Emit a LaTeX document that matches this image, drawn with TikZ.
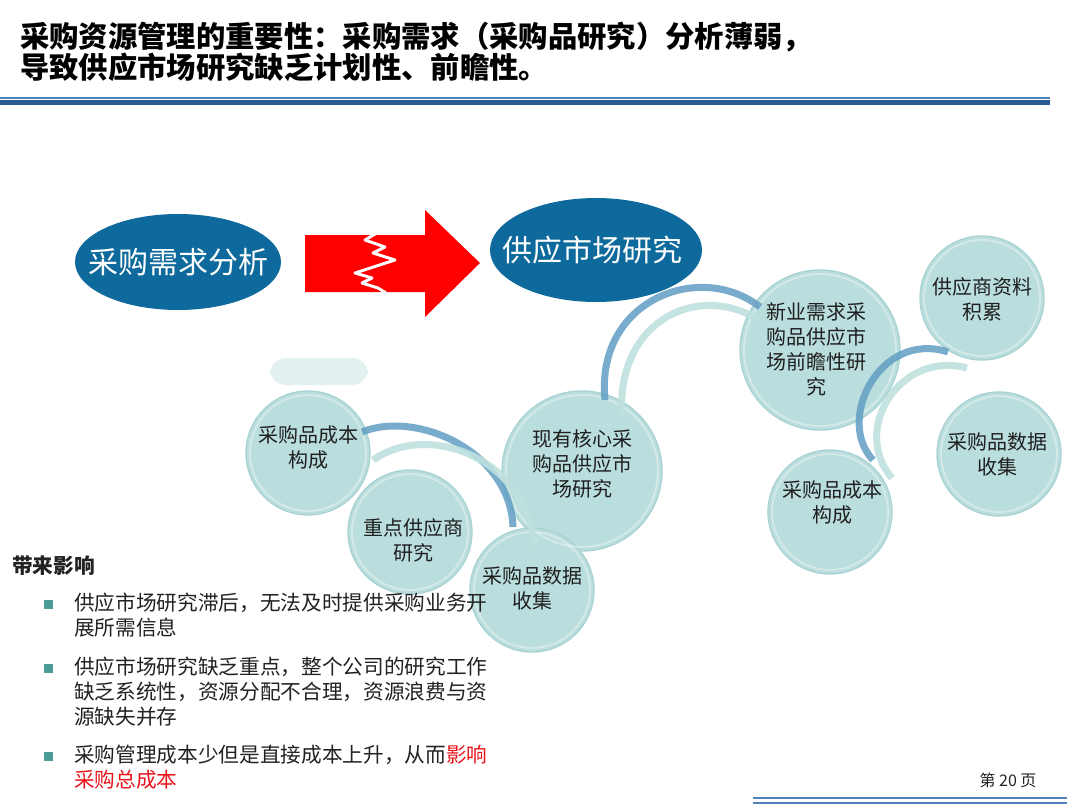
\documentclass[tikz,border=0pt]{standalone}
\usepackage{fontspec}
\setmainfont{Noto Sans CJK SC}
\usetikzlibrary{shapes.geometric}
\definecolor{ellblue}{RGB}{14,106,156}
\definecolor{bubfill}{RGB}{186,222,221}
\definecolor{bubedge}{RGB}{168,211,210}
\definecolor{arcdark}{RGB}{98,158,196}
\definecolor{arclight}{RGB}{190,224,222}
\definecolor{bulletc}{RGB}{74,156,152}
\definecolor{textgray}{RGB}{34,34,34}
\definecolor{ruleA}{RGB}{79,129,189}
\definecolor{ruleB}{RGB}{42,90,147}
\definecolor{redtxt}{RGB}{232,20,27}
\definecolor{fadec}{RGB}{228,241,241}
\begin{document}
\begin{tikzpicture}[x=0.75pt,y=-0.75pt,
  ell/.style={ellipse, fill=ellblue, inner sep=0pt},
  etxt/.style={text=white, inner sep=0pt, font=\fontsize{22.5}{27}\selectfont},
  bub/.style={circle, inner sep=0pt, fill=bubfill, draw=bubedge, line width=1pt},
  small/.style={bub, minimum size=93pt},
  big/.style={bub, minimum size=120pt},
  btxt/.style={inner sep=0pt, font=\fontsize{15}{18.75}\selectfont, align=center, text=black!88},
  rim/.style={draw=white, draw opacity=0.35, line width=1.5pt},
  darkarc/.style={draw=arcdark, line width=5.25pt, draw opacity=0.85},
  lightarc/.style={draw=arclight, line width=5.25pt, draw opacity=0.9},
  ttl/.style={anchor=west, font=\bfseries\fontsize{22}{26}\selectfont, inner sep=0pt},
  bl/.style={anchor=west, font=\fontsize{15.5}{18.75}\selectfont, inner sep=0pt, text=textgray},
  sq/.style={fill=bulletc, minimum size=6.75pt, inner sep=0pt}
]
\useasboundingbox[fill=white] (0,0) rectangle (1080,810);

% title
\node[ttl] (t1) at (20,37) {采购资源管理的重要性：采购需求（采购品研究）分析薄弱，};
\node[ttl] (t2) at (20,67) {导致供应市场研究缺乏计划性、前瞻性。};

% top rules
\draw[ruleA, line width=1.1pt] (0,98) -- (1050,98);
\draw[ruleB, line width=3.2pt] (0,102.5) -- (1050,102.5);

% bottom rules
\draw[ruleA, line width=1.5pt] (753,797.5) -- (1067,797.5);
\draw[ruleA, line width=1.5pt] (753,802.5) -- (1067,802.5);
\node[font=\fontsize{12}{14}\selectfont, text=textgray] (pg) at (1008,780) {第 20 页};

% faded shape
\fill[fadec, rounded corners=12pt] (270,358) rectangle (368,385);

% circles
\node[small] (c1) at (308,453) {};
\node[small] (c2) at (410,532) {};
\node[big]   (c4) at (582,471) {};
\node[small] (c3) at (532,590) {};
\node[big]   (c5) at (820,350) {};
\node[small] (c6) at (982,298) {};
\node[small] (c7) at (999,454) {};
\node[small] (c8) at (830,512) {};
\foreach \c/\r in {c1/58,c2/58,c3/58,c4/76,c5/76,c6/58,c7/58,c8/58}
  \draw[rim] (\c.center) circle (\r);

% arcs
\draw[darkarc] (362,432) .. controls (415,410) and (510,450) .. (513,527);
\draw[lightarc] (373,460) .. controls (430,420) and (530,460) .. (535,550);
\draw[darkarc] (605,400) .. controls (595,300) and (700,260) .. (760,307);
\draw[lightarc] (622,417) .. controls (615,320) and (700,280) .. (762,322);
\draw[darkarc] (948,352) .. controls (880,330) and (835,420) .. (873,460);
\draw[lightarc] (967,368) .. controls (900,350) and (850,430) .. (892,478);

% circle texts
\node[btxt] (c1t) at (308,447) {采购品成本\\构成};
\node[btxt] (c2t) at (413,540) {重点供应商\\研究};
\node[btxt] (c3t) at (532,588) {采购品数据\\收集};
\node[btxt] (c4t) at (582,464) {现有核心采\\购品供应市\\场研究};
\node[btxt] (c5t) at (816,349) {新业需求采\\购品供应市\\场前瞻性研\\究};
\node[btxt] (c6t) at (982,299) {供应商资料\\积累};
\node[btxt] (c7t) at (997,454) {采购品数据\\收集};
\node[btxt] (c8t) at (832,502) {采购品成本\\构成};

% ellipses
\node[ell, minimum width=154.5pt, minimum height=72pt] (e1) at (178,262) {};
\node[etxt] (e1t) at (e1.center) {采购需求分析};
\node[ell, minimum width=159pt, minimum height=78pt] (e2) at (596,250) {};
\node[etxt] (e2t) at (592,250) {供应市场研究};

% red arrow
\fill[red] (305,235) -- (425,235) -- (425,210) -- (480,263) -- (425,317) -- (425,292) -- (305,292) -- cycle;
\draw[white, line width=2.2pt, line join=round] (375,234) -- (365,240) -- (385,247) -- (373,253) -- (395,260) -- (355,273) -- (372,278) -- (362,283) -- (378,288) -- (386,293);

% bottom text
\node[anchor=west, inner sep=0pt, font=\bfseries\fontsize{15.5}{18}\selectfont, text=textgray] (h) at (12,566) {带来影响};
\node[sq] (s1) at (48,604) {};
\node[sq] (s2) at (48,668) {};
\node[sq] (s3) at (48,756) {};
\node[bl] (b1a) at (74,603) {供应市场研究滞后，无法及时提供采购业务开};
\node[bl] (b1b) at (74,628) {展所需信息};
\node[bl] (b2a) at (74,667) {供应市场研究缺乏重点，整个公司的研究工作};
\node[bl] (b2b) at (74,692) {缺乏系统性，资源分配不合理，资源浪费与资};
\node[bl] (b2c) at (74,717) {源缺失并存};
\node[bl] (b3a) at (74,755) {采购管理成本少但是直接成本上升，从而\textcolor{redtxt}{影响}};
\node[bl, text=redtxt] (b3b) at (74,780) {采购总成本};
\end{tikzpicture}
\end{document}
